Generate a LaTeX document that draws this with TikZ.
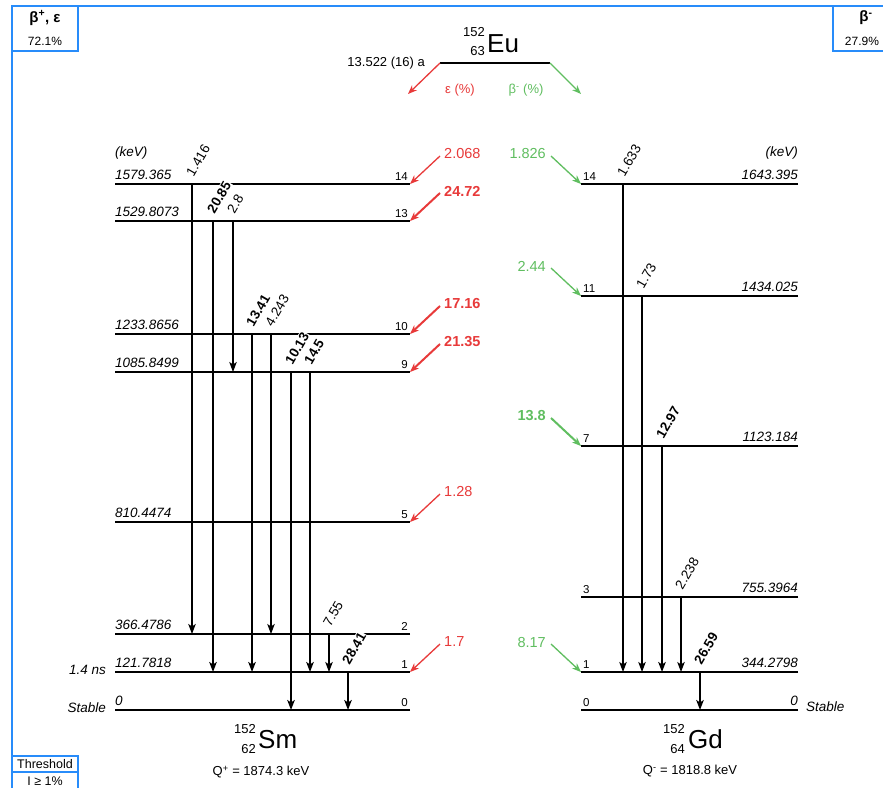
\documentclass[tikz,border=0pt]{standalone}
\usepackage{fontspec}
\setmainfont{Liberation Sans}
\usetikzlibrary{arrows.meta}
\definecolor{epsred}{RGB}{232,58,58}
\definecolor{betagreen}{RGB}{96,190,96}
\definecolor{frameblue}{RGB}{40,140,250}
\newcommand{\fsz}[1]{\fontsize{#1}{#1}\selectfont}
\tikzset{
  lvthin/.style={line width=1.1pt},
  lvthick/.style={line width=2.6pt},
  gam/.style={line width=1.1pt,-{Stealth[length=10pt,width=7.5pt,inset=2.5pt]}},
  gamS/.style={gam,line width=1.8pt},
  glab/.style={rotate=60,anchor=west,inner sep=1pt,fill=white,font=\fsz{13.5}},
  glabS/.style={glab,font=\fsz{13.5}\bfseries},
  elab/.style={font=\fsz{13.5}\itshape,inner sep=0pt},
  nlab/.style={font=\fsz{11.5},inner sep=0pt},
  feedE/.style={epsred,line width=1.3pt,-{Stealth[length=9pt,width=7pt]}},
  feedES/.style={feedE,line width=2pt},
  feedB/.style={betagreen,line width=1.3pt,-{Stealth[length=9pt,width=7pt]}},
  feedBS/.style={feedB,line width=2pt},
  flabE/.style={epsred,font=\fsz{14.5},inner sep=0pt},
  flabES/.style={epsred,font=\fsz{14.5}\bfseries,inner sep=0pt},
  flabB/.style={betagreen,font=\fsz{14.5},inner sep=0pt},
  flabBS/.style={betagreen,font=\fsz{14.5}\bfseries,inner sep=0pt},
  frame/.style={frameblue,line width=1.3pt},
  txt/.style={inner sep=0pt,font=\fsz{13}},
}
\begin{document}
\begin{tikzpicture}[x=1pt,y=-1pt]
\clip (0,0) rectangle (883,787);
\fill[white] (0,0) rectangle (883,787);

% ---------- frames ----------
\draw[frame] (12,6) -- (883,6);
\draw[frame] (12,6) -- (12,787);
\draw[frame] (12,6) rectangle (78,51);
\node[txt,font=\fsz{15}\bfseries] (bpe) at (45,18) {β\textsuperscript{+}, ε};
\node[txt,font=\fsz{12}] (bpeval) at (45,41) {72.1\%};
\draw[frame] (833,6) rectangle (899,51);
\node[txt,font=\fsz{15}\bfseries] (bm) at (866,18) {β\textsuperscript{-}};
\node[txt,font=\fsz{12}] (bmval) at (862,41) {27.9\%};
\draw[frame] (12,756) rectangle (78,800);
\draw[frame] (12,772) -- (78,772);
\node[txt,font=\fsz{12.5}] (thr) at (45,764) {Threshold};
\node[txt,font=\fsz{12.5}] (thrv) at (45,781) {I ≥ 1\%};

% ---------- parent ----------
\coordinate (EuL) at (440,63);
\coordinate (EuR) at (550,63);
\coordinate (EuE) at (408,94);
\coordinate (EuB) at (581,94);
\draw[line width=2.6pt] (EuL) -- (EuR);
\draw[feedE] (EuL) -- (EuE);
\draw[feedB] (EuR) -- (EuB);
\node[inner sep=0pt,font=\fsz{26},anchor=base west] (Eu) at (487,52) {Eu};
\node[txt,anchor=base east] (EuA) at (485,36.5) {152};
\node[txt,anchor=base east] (EuZ) at (485,55.5) {63};
\node[txt,anchor=east] (Euhl) at (425,63) {13.522 (16) a};
\node[txt,text=epsred] (Eueps) at (460,90) {ε (\%)};
\node[txt,text=betagreen] (Eubm) at (526,90) {β\textsuperscript{-} (\%)};

% ---------- Sm levels ----------
\foreach \n/\y/\e in {14/184/1579.365,13/221/1529.8073,10/334/1233.8656,9/372/1085.8499,5/522/810.4474,2/634/366.4786,1/672/121.7818,0/710/0}{
  \coordinate (S\n) at (115,\y);
  \coordinate (SR\n) at (410,\y);
  \draw[lvthin] (S\n) -- (SR\n);
  \draw[lvthick] (S\n) -- ++(58,0);
  \draw[lvthick] (SR\n) -- ++(-23,0);
  \node[elab,anchor=base west] (SE\n) at ([yshift=5pt]S\n) {\e};
  \node[nlab,anchor=base east] (SN\n) at ([xshift=-2pt,yshift=3.5pt]SR\n) {\n};
}
\node[elab,anchor=base west] (SkeV) at (115,156) {(keV)};
\node[elab,anchor=east] (Shl) at (106,670) {1.4 ns};
\node[elab,anchor=east] (Sst) at (106,708) {Stable};

% ---------- Gd levels ----------
\foreach \n/\y/\e in {14/184/1643.395,11/296/1434.025,7/446/1123.184,3/597/755.3964,1/672/344.2798,0/710/0}{
  \coordinate (G\n) at (581,\y);
  \coordinate (GR\n) at (798,\y);
  \draw[lvthin] (G\n) -- (GR\n);
  \draw[lvthick] (G\n) -- ++(21,0);
  \draw[lvthick] (GR\n) -- ++(-60,0);
  \node[elab,anchor=base east] (GE\n) at ([yshift=5pt]GR\n) {\e};
  \node[nlab,anchor=base west] (GN\n) at ([xshift=2pt,yshift=3.5pt]G\n) {\n};
}
\node[elab,anchor=base east] (GkeV) at (798,156) {(keV)};
\node[elab,anchor=west] (Gst) at (806,707) {Stable};

% ---------- Sm gammas ----------
\foreach \i/\x/\a/\b/\t/\s/\l in {1/192/14/2/1.416/gam/glab,2/213/13/1/20.85/gamS/glabS,3/233/13/9/2.8/gam/glab,4/252/10/1/13.41/gamS/glabS,5/271/10/2/4.243/gam/glab,6/291/9/0/10.13/gamS/glabS,7/310/9/1/14.5/gamS/glabS,8/329/2/1/7.55/gam/glab,9/348/1/0/28.41/gamS/glabS}{
  \coordinate (sg\i) at (\x,0);
  \draw[\s] (sg\i |- S\a) -- (sg\i |- S\b);
}
\foreach \i/\x/\a/\b/\t/\s/\l in {1/192/14/2/1.416/gam/glab,2/213/13/1/20.85/gamS/glabS,3/233/13/9/2.8/gam/glab,4/252/10/1/13.41/gamS/glabS,5/271/10/2/4.243/gam/glab,6/291/9/0/10.13/gamS/glabS,7/310/9/1/14.5/gamS/glabS,8/329/2/1/7.55/gam/glab,9/348/1/0/28.41/gamS/glabS}{
  \node[\l] (sgl\i) at ([xshift=-3pt,yshift=8pt]sg\i |- S\a) {\t};
}

% ---------- Gd gammas ----------
\foreach \i/\x/\a/\b/\t/\s/\l in {1/623/14/1/1.633/gam/glab,2/642/11/1/1.73/gam/glab,3/662/7/1/12.97/gamS/glabS,4/681/3/1/2.238/gam/glab,5/700/1/0/26.59/gamS/glabS}{
  \coordinate (gg\i) at (\x,0);
  \draw[\s] (gg\i |- G\a) -- (gg\i |- G\b);
  \node[\l] (ggl\i) at ([xshift=-3pt,yshift=8pt]gg\i |- G\a) {\t};
}

% ---------- feeding ----------
\foreach \n/\v/\s/\f in {14/2.068/feedE/flabE,13/24.72/feedES/flabES,10/17.16/feedES/flabES,9/21.35/feedES/flabES,5/1.28/feedE/flabE,1/1.7/feedE/flabE}{
  \coordinate (ET\n) at ([xshift=30pt,yshift=28pt]SR\n);
  \draw[\s] (ET\n) -- (SR\n);
  \node[\f,anchor=west] (EL\n) at ([xshift=34pt,yshift=30pt]SR\n) {\v};
}
\foreach \n/\v/\s/\f in {14/1.826/feedB/flabB,11/2.44/feedB/flabB,7/13.8/feedBS/flabBS,1/8.17/feedB/flabB}{
  \coordinate (BT\n) at ([xshift=-30pt,yshift=28pt]G\n);
  \draw[\s] (BT\n) -- (G\n);
  \node[\f,anchor=east] (BL\n) at ([xshift=-35pt,yshift=30pt]G\n) {\v};
}

% ---------- daughters ----------
\node[inner sep=0pt,font=\fsz{26},anchor=base west] (Sm) at (258,748) {Sm};
\node[txt,anchor=base east] (SmA) at (256,733) {152};
\node[txt,anchor=base east] (SmZ) at (256,753) {62};
\node[txt] (SmQ) at (261,772) {Q\textsuperscript{+} = 1874.3 keV};
\node[inner sep=0pt,font=\fsz{26},anchor=base west] (Gd) at (688,748) {Gd};
\node[txt,anchor=base east] (GdA) at (685,733) {152};
\node[txt,anchor=base east] (GdZ) at (685,753) {64};
\node[txt] (GdQ) at (690,771) {Q\textsuperscript{-} = 1818.8 keV};
\end{tikzpicture}
\end{document}
